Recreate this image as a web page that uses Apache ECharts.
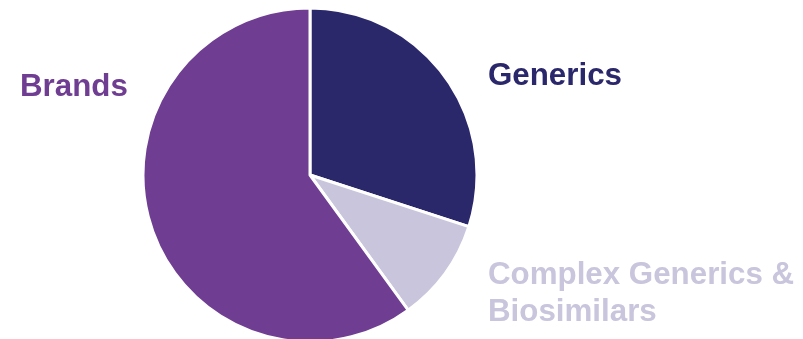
<!DOCTYPE html>
<html>
<head>
<meta charset="utf-8">
<script src="https://cdn.jsdelivr.net/npm/echarts@6/dist/echarts.min.js"></script>
<style>html,body{margin:0;padding:0;background:#fff}#c{width:803px;height:339px}</style>
</head>
<body>
<div id="c"></div>
<script>
const categories = ['Generics', 'Complex Generics &\nBiosimilars', 'Brands'];
const values = [30, 10, 60];
const sliceColors = ['#2a276b', '#c8c5dc', '#6f3d91'];
const labelColors = ['#2a276b', '#c8c5dc', '#6f3d91'];

const chart = echarts.init(document.getElementById('c'), null, {renderer: 'canvas'});
const labelPos = [
  {x: 488, y: 76},
  {x: 488, y: 294},
  {x: 20, y: 87}
];
chart.setOption({
  animation: false,
  series: [{
    type: 'pie',
    center: [310, 175],
    radius: 167,
    startAngle: 90,
    clockwise: true,
    data: categories.map((c, i) => ({
      name: c, value: values[i],
      itemStyle: {color: sliceColors[i]},
      label: {color: labelColors[i]}
    })),
    itemStyle: {borderColor: '#fff', borderWidth: 3},
    label: {
      show: true,
      formatter: '{b}',
      fontFamily: 'Liberation Sans, Arial, sans-serif',
      fontWeight: 'bold',
      fontSize: 31.3,
      lineHeight: 37,
      align: 'left',
      overflow: 'none',
      width: 400
    },
    labelLine: {show: false},
    labelLayout: function (p) {
      const pos = labelPos[p.dataIndex];
      return {x: pos.x, y: pos.y, align: 'left', verticalAlign: 'middle', width: 400};
    },
    emphasis: {disabled: true}
  }]
});
</script>
</body>
</html>
